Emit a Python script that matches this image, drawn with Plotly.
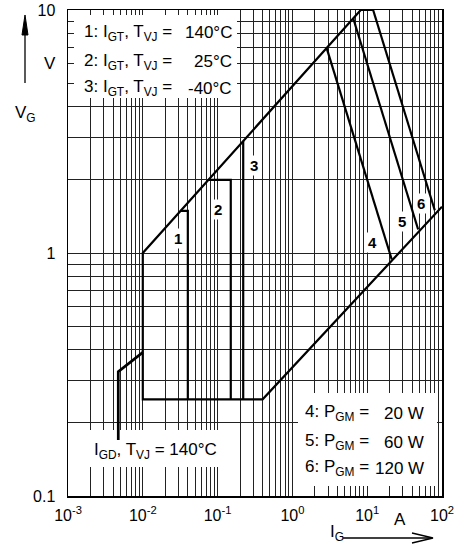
import plotly.graph_objects as go

# ---------------- data ----------------
# outer boundary of the gate trigger area (I_G in A, V_G in V)
outline_I = [100, 0.4, 0.01, 0.01, 8.2, 12]
outline_V = [1.55, 0.25, 0.25, 1.0, 10, 10]

# curve 1: I_GT, Tvj = 140 C
c1_I = [0.032, 0.04, 0.04]
c1_V = [1.49, 1.49, 0.25]
# curve 2: I_GT, Tvj = 25 C
c2_I = [0.075, 0.15, 0.15]
c2_V = [2.0, 2.0, 0.25]
# curve 3: I_GT, Tvj = -40 C
c3_I = [0.22, 0.22]
c3_V = [2.89, 0.25]
# curves 4..6: P_GM = 20 / 60 / 120 W
p4_I = [2.88, 21.3]
p4_V = [6.95, 0.94]
p5_I = [6.5, 48]
p5_V = [9.25, 1.25]
p6_I = [12, 80]
p6_V = [10, 1.5]
# I_GD, Tvj = 140 C
gd_I = [0.0047, 0.0047, 0.01]
gd_V = [0.17, 0.325, 0.39]

# axis ticks / grid
x_grid = [m * 10.0 ** e for e in range(-3, 2) for m in range(1, 10)] + [100]
x_text = ["10<sup>%d</sup>" % e if m == 1 else "" for e in range(-3, 2) for m in range(1, 10)] + ["10<sup>2</sup>"]
y_grid = [m * 10.0 ** e for e in range(-1, 1) for m in range(1, 10)] + [10]
y_labels = {0.1: "0.1", 1.0: "1", 10.0: "10"}
y_text = [y_labels.get(round(v, 6), "") for v in y_grid]

# curve numbers
curve_numbers = ["1", "2", "3", "4", "5", "6"]

FONT = "Liberation Sans, Arial, sans-serif"

# ---------------- figure ----------------
L, R, T, B = 68, 442, 10, 496
W, H = 468, 550


def px(x):
    return (x - L) / (R - L)


def py(y):
    return (B - y) / (B - T)


def dx(x):  # pixel -> data value on the log x axis (for layout masks only)
    return 10 ** (px(x) * 5 - 3)


def dy(y):
    return 10 ** (py(y) * 2 - 1)


fig = go.Figure()
line_style = dict(color="black", width=2.2)
for xs, ys in [(outline_I, outline_V), (c1_I, c1_V), (c2_I, c2_V), (c3_I, c3_V),
               (p4_I, p4_V), (p5_I, p5_V), (p6_I, p6_V)]:
    fig.add_trace(go.Scatter(x=xs, y=ys, mode="lines", line=line_style,
                             hoverinfo="skip", showlegend=False))
fig.add_trace(go.Scatter(x=gd_I, y=gd_V, mode="lines", line=dict(color="black", width=2.7),
                         hoverinfo="skip", showlegend=False))

shapes = []
# white masks behind text blocks (between grid and traces)
for (x0, y0, x1, y1) in [(74, 15, 237, 98), (72, 430, 230, 467), (298, 393, 437, 486)]:
    shapes.append(dict(type="rect", xref="x", yref="y", layer="between",
                       x0=dx(x0), x1=dx(x1), y0=dy(y1), y1=dy(y0),
                       fillcolor="white", line=dict(width=0)))
# axis arrows
shapes.append(dict(type="line", xref="paper", yref="paper", x0=px(343), x1=px(431),
                   y0=py(538), y1=py(538), line=dict(color="black", width=1.3)))
shapes.append(dict(type="path", xref="paper", yref="paper",
                   path="M %f,%f L %f,%f L %f,%f" % (px(412), py(533), px(433), py(538), px(412), py(543)),
                   line=dict(color="black", width=1.3)))
shapes.append(dict(type="line", xref="paper", yref="paper", x0=px(25), x1=px(25),
                   y0=py(83), y1=py(30), line=dict(color="black", width=1.3)))
shapes.append(dict(type="path", xref="paper", yref="paper",
                   path="M %f,%f L %f,%f L %f,%f Z" % (px(22), py(35), px(25), py(15), px(28), py(35)),
                   fillcolor="black", line=dict(color="black", width=1)))

ann = []


def text(x, y, s, size=17, xanchor="left", bold=False, bg=None):
    d = dict(xref="paper", yref="paper", x=px(x), y=py(y), text=("<b>%s</b>" % s) if bold else s,
             showarrow=False, xanchor=xanchor, yanchor="middle",
             font=dict(family=FONT, size=size, color="black"))
    if bg:
        d["bgcolor"] = bg
        d["borderpad"] = 1
    ann.append(d)


# top-left legend
for yy, n, val in [(33, "1", "140°C"), (62, "2", "25°C"), (88, "3", "-40°C")]:
    text(82, yy, "%s: I<sub>GT</sub>, T<sub>VJ</sub> =" % n)
    text(234, yy, val, xanchor="right")
# bottom-right legend
for yy, n, val in [(413, "4", "20 W"), (442, "5", "60 W"), (468, "6", "120 W")]:
    text(303, yy, "%s: P<sub>GM</sub> =" % n)
    text(426, yy, val, xanchor="right")
# I_GD text
text(155, 451, "I<sub>GD</sub>, T<sub>VJ</sub> = 140°C", xanchor="center")
# units and axis titles
text(50, 63, "V", xanchor="center")
text(13, 114, "V<sub>G</sub>")
text(400, 519, "A", xanchor="center")
text(328, 533, "I<sub>G</sub>")

# curve numbers (bold, white background)
label_px = [(177.7, 238.3), (218.3, 209.3), (254, 165),
            (372.7, 242.7), (401.7, 221.7), (420.7, 204)]
for s, (x, y) in zip(curve_numbers, label_px):
    text(x, y, s, size=15, xanchor="center", bold=True, bg="white")

fig.update_layout(
    width=W, height=H,
    margin=dict(l=L, r=W - R, t=T, b=H - B, autoexpand=False),
    paper_bgcolor="white", plot_bgcolor="white",
    font=dict(family=FONT, size=16, color="black"),
    shapes=shapes, annotations=ann,
    xaxis=dict(type="log", range=[-3, 2], tickvals=x_grid, ticktext=x_text, ticks="",
               showgrid=True, gridcolor="#222", gridwidth=1, zeroline=False,
               showline=True, mirror=True, linecolor="black", linewidth=1.5,
               tickfont=dict(size=16), ticklabelstandoff=4, automargin=False),
    yaxis=dict(type="log", range=[-1, 1], tickvals=y_grid, ticktext=y_text, ticks="",
               showgrid=True, gridcolor="#222", gridwidth=1, zeroline=False,
               showline=True, mirror=True, linecolor="black", linewidth=1.5,
               tickfont=dict(size=16), ticklabelstandoff=8, automargin=False),
)

fig.write_html("out.html", config={"displayModeBar": False, "staticPlot": True},
               post_script="document.body.style.margin='0';document.body.style.padding='0';")
